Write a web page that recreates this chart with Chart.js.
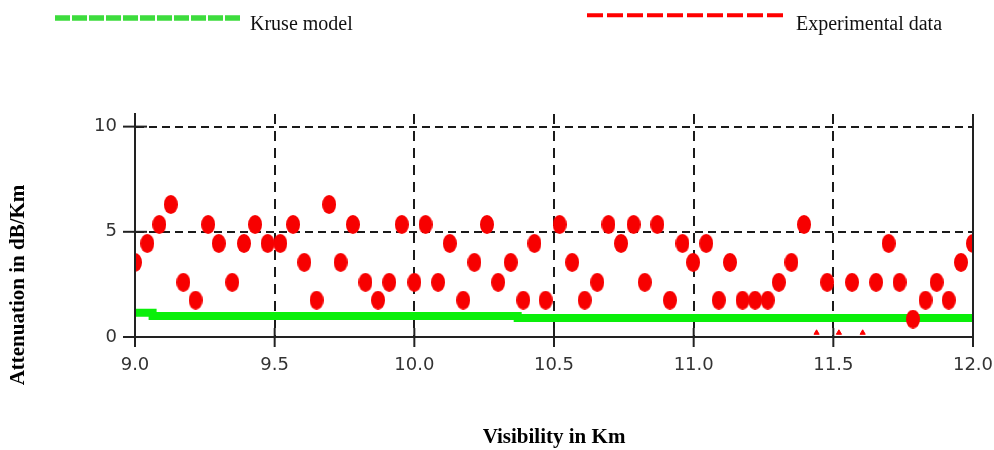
<!DOCTYPE html>
<html><head><meta charset="utf-8">
<script src="https://cdn.jsdelivr.net/npm/chart.js@4.4.1/dist/chart.umd.min.js"></script>
<style>html,body{margin:0;padding:0;background:#fff;} #wrap{width:994px;height:450px;position:relative;}</style>
</head><body><div id="wrap"><canvas id="c" width="994" height="450"></canvas></div>
<script>
// ---- data ----
const expX = [9.000, 9.044, 9.087, 9.128, 9.173, 9.217, 9.262, 9.300, 9.348, 9.390,
              9.430, 9.475, 9.520, 9.566, 9.606, 9.650, 9.695, 9.736, 9.780, 9.825,
              9.870, 9.910, 9.955, 10.000, 10.040, 10.085, 10.127, 10.175, 10.215, 10.260,
              10.300, 10.345, 10.390, 10.430, 10.470, 10.520, 10.565, 10.610, 10.655, 10.695,
              10.740, 10.785, 10.825, 10.870, 10.915, 10.960, 10.998, 11.045, 11.090, 11.130,
              11.175, 11.220, 11.265, 11.305, 11.350, 11.395, 11.478, 11.567, 11.653, 11.698,
              11.737, 11.785, 11.830, 11.870, 11.913, 11.957, 12.000];
const expY = [3.55, 4.45, 5.35, 6.3, 2.6, 1.75, 5.35, 4.45, 2.6, 4.45,
              5.35, 4.45, 4.45, 5.35, 3.55, 1.75, 6.3, 3.55, 5.35, 2.6,
              1.75, 2.6, 5.35, 2.6, 5.35, 2.6, 4.45, 1.75, 3.55, 5.35,
              2.6, 3.55, 1.75, 4.45, 1.75, 5.35, 3.55, 1.75, 2.6, 5.35,
              4.45, 5.35, 2.6, 5.35, 1.75, 4.45, 3.55, 4.45, 1.75, 3.55,
              1.75, 1.75, 1.75, 2.6, 3.55, 5.35, 2.6, 2.6, 2.6, 4.45,
              2.6, 0.85, 1.75, 2.6, 1.75, 3.55, 4.45];
const markX = [11.44, 11.52, 11.605];
const markY = [0.2, 0.2, 0.2];
const kruseX = [9.0, 9.063, 10.37, 12.0];
const kruseY = [1.15, 1.0, 0.9, 0.9];
const xTicks = [9.0, 9.5, 10.0, 10.5, 11.0, 11.5, 12.0];
const yTicks = [0, 5, 10];
const seriesNames = ['Kruse model', 'Experimental data'];
const xTitle = 'Visibility in Km';
const yTitle = 'Attenuation in dB/Km';

// ---- point style (ellipse) ----
const pt = document.createElement('canvas');
pt.width = 14; pt.height = 19;
(function(){ const g = pt.getContext('2d'); g.fillStyle = '#f70000'; g.beginPath(); g.ellipse(7, 9.5, 7, 9.5, 0, 0, Math.PI*2); g.fill(); })();

const decor = {
  id: 'decor',
  afterDraw(chart) {
    const ctx = chart.ctx, a = chart.chartArea, xs = chart.scales.x, ys = chart.scales.y;
    ctx.save();
    ctx.strokeStyle = '#222'; ctx.lineWidth = 2; ctx.setLineDash([]);
    ctx.beginPath(); ctx.moveTo(a.right, a.top); ctx.lineTo(a.right, a.bottom); ctx.stroke();
    ctx.beginPath(); ctx.moveTo(a.left, a.top); ctx.lineTo(a.left, a.bottom); ctx.stroke();
    xTicks.forEach(v => { const px = xs.getPixelForValue(v); ctx.beginPath(); ctx.moveTo(px, a.bottom - 9); ctx.lineTo(px, a.bottom + 10); ctx.stroke(); });
    yTicks.forEach(v => { const py = ys.getPixelForValue(v); ctx.beginPath(); ctx.moveTo(a.left - 12, py); ctx.lineTo(a.left + 12, py); ctx.stroke(); });
    ctx.save();
    ctx.translate(18.5, 285); ctx.rotate(-Math.PI/2);
    ctx.font = 'bold 21px "Liberation Serif"'; ctx.fillStyle = '#000'; ctx.textAlign = 'center'; ctx.textBaseline = 'middle';
    ctx.fillText(yTitle, 0, 0);
    ctx.restore();
    ctx.lineCap = 'butt';
    ctx.strokeStyle = '#3ddc3d'; ctx.lineWidth = 5.5; ctx.setLineDash([15, 2]);
    ctx.beginPath(); ctx.moveTo(55, 18); ctx.lineTo(241, 18); ctx.stroke();
    ctx.strokeStyle = '#ff0000'; ctx.lineWidth = 4; ctx.setLineDash([16, 4]);
    ctx.beginPath(); ctx.moveTo(587, 15.3); ctx.lineTo(787, 15.3); ctx.stroke();
    ctx.setLineDash([]);
    ctx.font = '20px "Liberation Serif"'; ctx.fillStyle = '#111'; ctx.textAlign = 'left'; ctx.textBaseline = 'alphabetic';
    ctx.fillText(seriesNames[0], 250, 30);
    ctx.fillText(seriesNames[1], 796, 30);
    ctx.restore();
  }
};

const gridColor = (edge) => (c) => (c.tick && edge.includes(c.tick.value)) ? 'rgba(0,0,0,0)' : '#1a1a1a';

new Chart(document.getElementById('c'), {
  type: 'line',
  data: {
    datasets: [
      { label: seriesNames[1], data: expX.map((x, i) => ({x, y: expY[i]})), showLine: false,
        pointStyle: pt, pointRadius: 7, pointHoverRadius: 7, borderColor: '#f70000', backgroundColor: '#f70000', clip: 0, order: 0 },
      { label: 'marks', data: markX.map((x, i) => ({x, y: markY[i]})), showLine: false,
        pointStyle: 'triangle', pointRadius: 3, borderWidth: 1, borderColor: '#f00', backgroundColor: '#f00', clip: 0, order: 0 },
      { label: seriesNames[0], data: kruseX.map((x, i) => ({x, y: kruseY[i]})), stepped: 'before',
        borderColor: '#0aef0a', borderWidth: 8, pointRadius: 0, fill: false, clip: 0, order: 1 }
    ]
  },
  options: {
    responsive: false, animation: false, devicePixelRatio: 1,
    layout: { padding: { top: 114, right: 21, left: 0, bottom: 0 } },
    plugins: { legend: { display: false }, tooltip: { enabled: false } },
    scales: {
      x: {
        type: 'linear', min: 9, max: 12,
        afterBuildTicks: s => { s.ticks = xTicks.map(v => ({ value: v })); },
        afterFit: s => { s.height = 113; s.paddingLeft = 0; s.paddingRight = 0; },
        ticks: { padding: 18, color: '#333', font: { family: 'DejaVu Sans', size: 18 }, callback: v => Number(v).toFixed(1), maxRotation: 0, autoSkip: false },
        grid: { drawTicks: false, lineWidth: 2, color: gridColor([9, 12]) },
        border: { display: true, color: '#222', width: 2, dash: [10, 7] },
        title: { display: true, text: xTitle, color: '#000', font: { family: 'Liberation Serif', size: 21, weight: 'bold' }, padding: { top: 0, bottom: 0 } }
      },
      y: {
        type: 'linear', min: 0, max: 10.6,
        afterBuildTicks: s => { s.ticks = yTicks.map(v => ({ value: v })); },
        afterFit: s => { s.width = 135; s.paddingTop = 0; s.paddingBottom = 0; },
        ticks: { padding: 18, color: '#333', font: { family: 'DejaVu Sans', size: 18 }, callback: v => String(v) },
        grid: { drawTicks: false, lineWidth: 2, color: gridColor([0]) },
        border: { display: true, color: '#222', width: 2, dash: [8, 5] }
      }
    }
  },
  plugins: [decor]
});
</script></body></html>
